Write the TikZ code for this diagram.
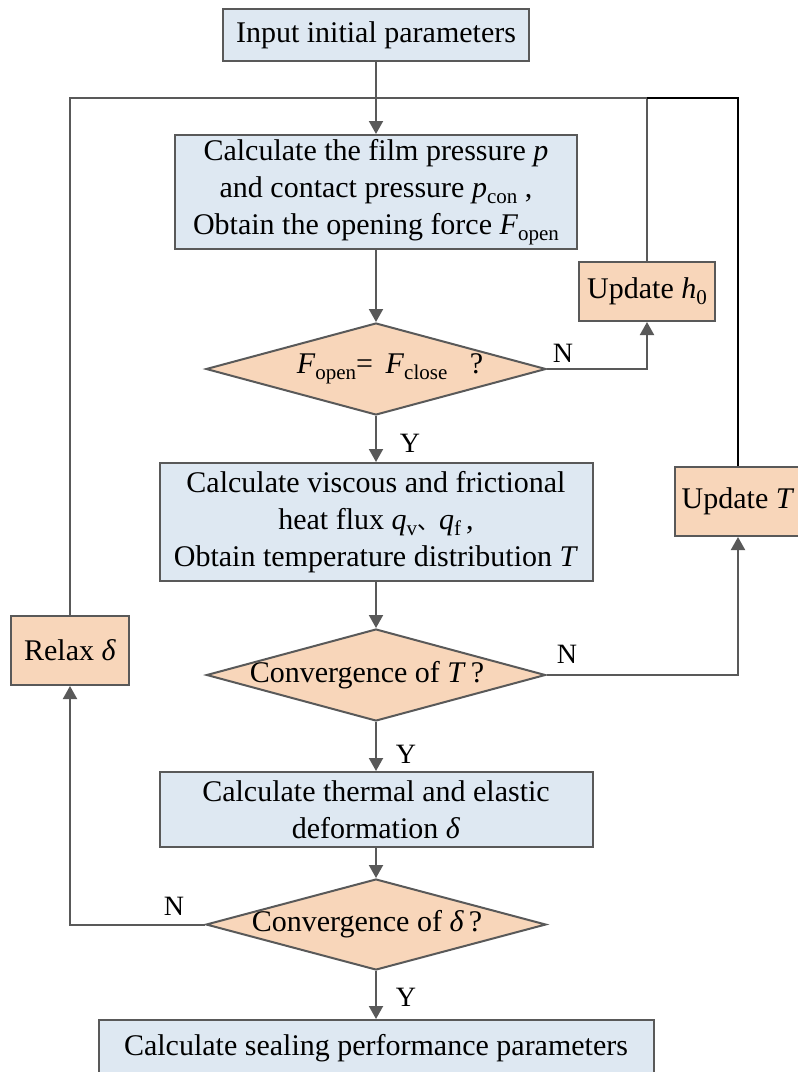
\documentclass[tikz,border=0pt]{standalone}
\usepackage{fontspec}
\setmainfont{Liberation Serif}
\newfontfamily\cjk{Noto Sans CJK SC}
\usetikzlibrary{arrows.meta,shapes.geometric}
\definecolor{boxblue}{RGB}{222,232,242}
\definecolor{boxorange}{RGB}{248,214,186}
\definecolor{edgegray}{RGB}{89,89,89}
\newcommand\sbs[1]{\raisebox{-0.2em}{\fontsize{21}{21}\selectfont #1}}
\begin{document}
\begin{tikzpicture}[x=1pt,y=-1pt,
  every node/.style={font=\fontsize{30}{37}\selectfont},
  bluebox/.style={draw=edgegray, line width=2pt, fill=boxblue, inner sep=0pt, align=center},
  orangebox/.style={draw=edgegray, line width=2pt, fill=boxorange, inner sep=0pt, align=center},
  decision/.style={diamond, draw=edgegray, line width=2pt, fill=boxorange, inner sep=0pt},
  flow/.style={draw=edgegray, line width=2pt, -{Triangle[length=13pt,width=14pt]}},
  link/.style={draw=edgegray, line width=2pt},
  blacklink/.style={draw=black, line width=2pt},
  lbl/.style={font=\fontsize{28}{28}\selectfont, inner sep=0pt}]
\useasboundingbox (0,0) rectangle (798,1072);

\node[bluebox, minimum width=306pt, minimum height=52pt] (in) at (376,35) {Input initial parameters};
\node[bluebox, minimum width=402pt, minimum height=114pt] (b1) at (376,192)
  {Calculate the film pressure \textit{p}\\ and contact pressure \textit{p}\sbs{con} ,\\ Obtain the opening force \textit{F}\sbs{open}};
\node[orangebox, minimum width=136pt, minimum height=59pt] (h0) at (647,291.5) {Update \textit{h}\sbs{0}};
\node[decision, minimum width=340pt, minimum height=92pt] (d1) at (376,369) {};
\node (d1t) at (390,369) {\textit{F}\sbs{open}= \,\textit{F}\sbs{close} \ \ ?};
\node[bluebox, minimum width=433pt, minimum height=118pt] (b2) at (376,522)
  {Calculate viscous and frictional\\ heat flux \textit{q}\sbs{v}{\cjk\fontsize{22}{22}\selectfont 、}\textit{q}\sbs{f}\,,\\ Obtain temperature distribution \textit{T}};
\node[orangebox, minimum width=126pt, minimum height=69pt] (uT) at (738,501.5) {Update \textit{T}};
\node[orangebox, minimum width=118pt, minimum height=69pt] (relax) at (70,650.5) {Relax \textit{δ}};
\node[decision, minimum width=339pt, minimum height=92pt] (d2) at (376,675) {};
\node (d2t) at (367,675) {Convergence of \textit{T}\,?};
\node[bluebox, minimum width=433pt, minimum height=75pt] (b3) at (376,809.5)
  {Calculate thermal and elastic\\ deformation \textit{δ}};
\node[decision, minimum width=340pt, minimum height=91pt] (d3) at (376,924.5) {};
\node (d3t) at (367,924.5) {Convergence of \textit{δ}\,?};
\node[bluebox, minimum width=555pt, minimum height=56pt] (b4) at (376,1048) {Calculate sealing performance parameters};

\coordinate (tm) at (376,98);
\coordinate (th) at (647,98);

\draw[flow] (in.south) -- (b1.north);
\draw[link] (relax.north) |- (tm);
\draw[link] (h0.north) |- (tm);
\draw[blacklink] (uT.north) |- (th);
\draw[flow] (b1.south) -- (d1.north);
\draw[flow] (d1.east) -| (h0.south);
\draw[flow] (d1.south) -- (b2.north);
\draw[flow] (b2.south) -- (d2.north);
\draw[flow] (d2.east) -| (uT.south);
\draw[flow] (d2.south) -- (b3.north);
\draw[flow] (b3.south) -- (d3.north);
\draw[flow] (d3.west) -| (relax.south);
\draw[flow] (d3.south) -- (b4.north);

\node[lbl] (n1) at (563,353) {N};
\node[lbl] (y1) at (410,443) {Y};
\node[lbl] (n2) at (567,654) {N};
\node[lbl] (y2) at (406,754) {Y};
\node[lbl] (n3) at (174,906) {N};
\node[lbl] (y3) at (406,997) {Y};
\end{tikzpicture}
\end{document}
